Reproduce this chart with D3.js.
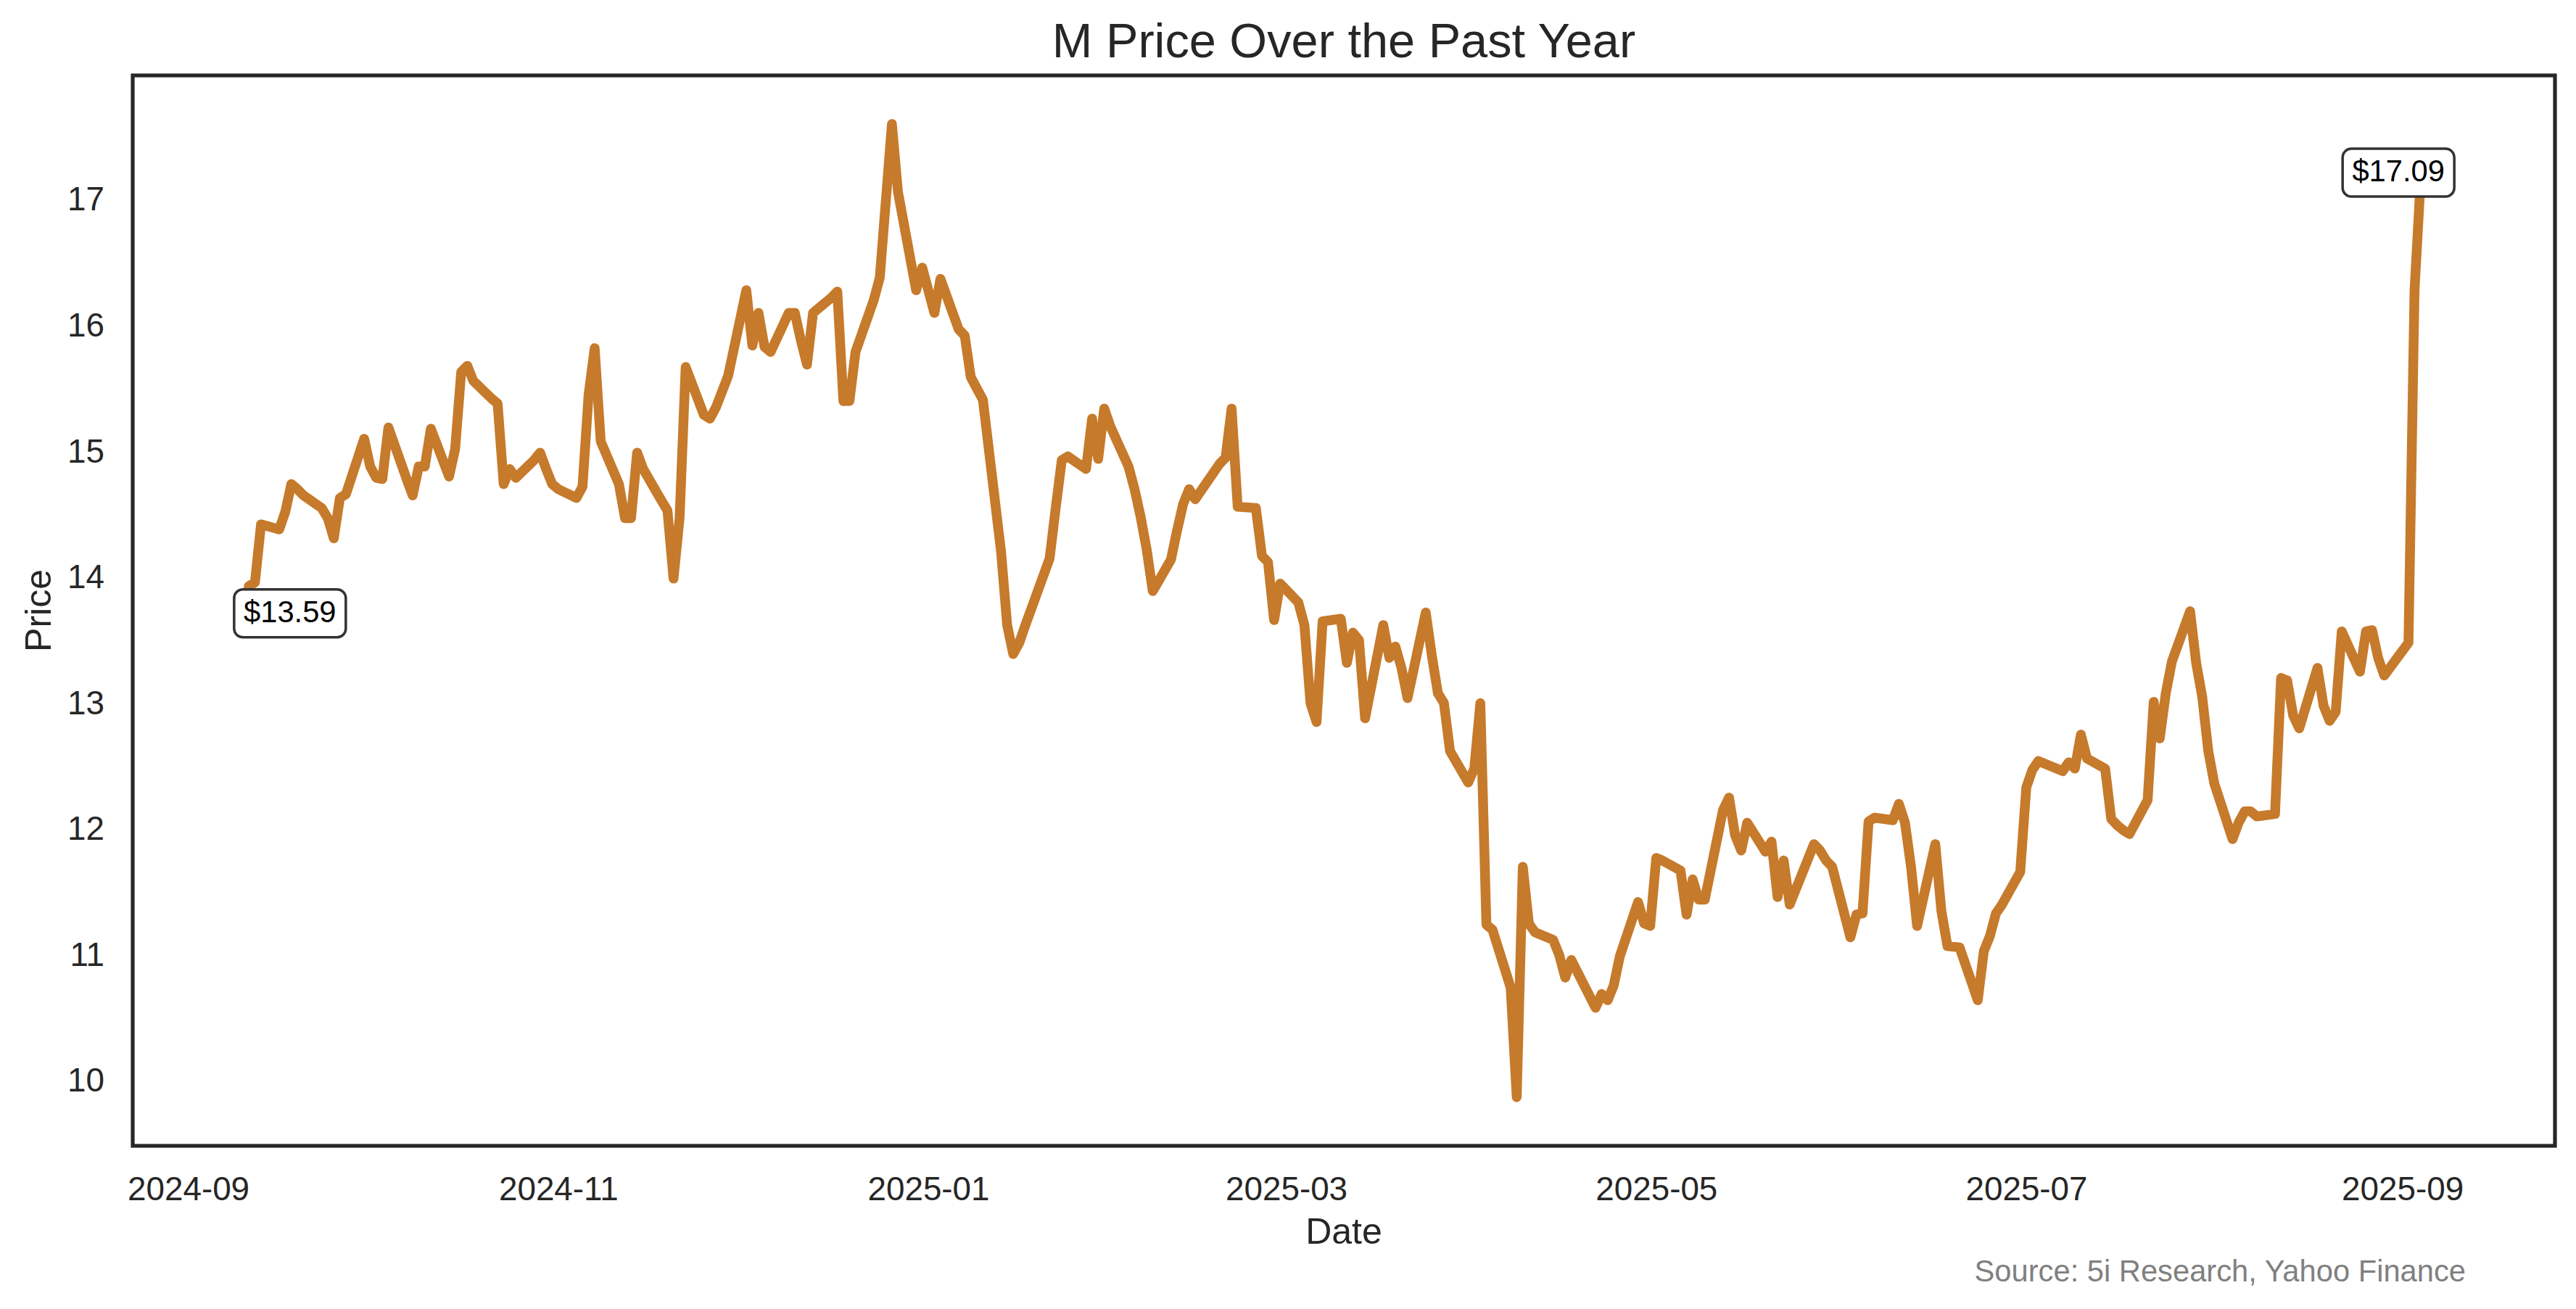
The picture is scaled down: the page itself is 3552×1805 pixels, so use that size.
<!DOCTYPE html>
<html lang="en">
<head>
<meta charset="utf-8">
<title>M Price Over the Past Year</title>
<script src="https://d3js.org/d3.v7.min.js"></script>
<style>
  html, body { margin: 0; padding: 0; background: #ffffff; }
  svg { display: block; }
  text { font-family: "Liberation Sans", Arial, sans-serif; }
</style>
</head>
<body>
<div id="chart"></div>
<script>
// daily closes
var dates = [
  "2024-09-10","2024-09-11","2024-09-12","2024-09-13","2024-09-16","2024-09-17","2024-09-18","2024-09-19","2024-09-20",
  "2024-09-23","2024-09-24","2024-09-25","2024-09-26","2024-09-27","2024-09-30","2024-10-01","2024-10-02","2024-10-03",
  "2024-10-04","2024-10-07","2024-10-08","2024-10-09","2024-10-10","2024-10-11","2024-10-14","2024-10-15","2024-10-16",
  "2024-10-17","2024-10-18","2024-10-21","2024-10-22","2024-10-23","2024-10-24","2024-10-25","2024-10-28","2024-10-29",
  "2024-10-30","2024-10-31","2024-11-01","2024-11-04","2024-11-05","2024-11-06","2024-11-07","2024-11-08","2024-11-11",
  "2024-11-12","2024-11-13","2024-11-14","2024-11-15","2024-11-18","2024-11-19","2024-11-20","2024-11-21","2024-11-22",
  "2024-11-25","2024-11-26","2024-11-27","2024-11-29","2024-12-02","2024-12-03","2024-12-04","2024-12-05","2024-12-06",
  "2024-12-09","2024-12-10","2024-12-11","2024-12-12","2024-12-13","2024-12-16","2024-12-17","2024-12-18","2024-12-19",
  "2024-12-20","2024-12-23","2024-12-24","2024-12-26","2024-12-27","2024-12-30","2024-12-31",
  "2025-01-02","2025-01-03","2025-01-06","2025-01-07","2025-01-08","2025-01-10","2025-01-13","2025-01-14","2025-01-15",
  "2025-01-16","2025-01-17","2025-01-21","2025-01-22","2025-01-23","2025-01-24","2025-01-27","2025-01-28","2025-01-29",
  "2025-01-30","2025-01-31","2025-02-03","2025-02-04","2025-02-05","2025-02-06","2025-02-07","2025-02-10","2025-02-11",
  "2025-02-12","2025-02-13","2025-02-14","2025-02-18","2025-02-19","2025-02-20","2025-02-21","2025-02-24","2025-02-25",
  "2025-02-26","2025-02-27","2025-02-28","2025-03-03","2025-03-04","2025-03-05","2025-03-06","2025-03-07","2025-03-10",
  "2025-03-11","2025-03-12","2025-03-13","2025-03-14","2025-03-17","2025-03-18","2025-03-19","2025-03-20","2025-03-21",
  "2025-03-24","2025-03-25","2025-03-26","2025-03-27","2025-03-28","2025-03-31","2025-04-01","2025-04-02","2025-04-03",
  "2025-04-04","2025-04-07","2025-04-08","2025-04-09","2025-04-10","2025-04-11","2025-04-14","2025-04-15","2025-04-16",
  "2025-04-17","2025-04-21","2025-04-22","2025-04-23","2025-04-24","2025-04-25","2025-04-28","2025-04-29","2025-04-30",
  "2025-05-01","2025-05-02","2025-05-05","2025-05-06","2025-05-07","2025-05-08","2025-05-09","2025-05-12","2025-05-13",
  "2025-05-14","2025-05-15","2025-05-16","2025-05-19","2025-05-20","2025-05-21","2025-05-22","2025-05-23","2025-05-27",
  "2025-05-28","2025-05-29","2025-05-30","2025-06-02","2025-06-03","2025-06-04","2025-06-05","2025-06-06","2025-06-09",
  "2025-06-10","2025-06-11","2025-06-12","2025-06-13","2025-06-16","2025-06-17","2025-06-18","2025-06-20","2025-06-23",
  "2025-06-24","2025-06-25","2025-06-26","2025-06-27","2025-06-30","2025-07-01","2025-07-02","2025-07-03","2025-07-07",
  "2025-07-08","2025-07-09","2025-07-10","2025-07-11","2025-07-14","2025-07-15","2025-07-16","2025-07-17","2025-07-18",
  "2025-07-21","2025-07-22","2025-07-23","2025-07-24","2025-07-25","2025-07-28","2025-07-29","2025-07-30","2025-07-31",
  "2025-08-01","2025-08-04","2025-08-05","2025-08-06","2025-08-07","2025-08-08","2025-08-11","2025-08-12","2025-08-13",
  "2025-08-14","2025-08-15","2025-08-18","2025-08-19","2025-08-20","2025-08-21","2025-08-22","2025-08-25","2025-08-26",
  "2025-08-27","2025-08-28","2025-08-29","2025-09-02","2025-09-03","2025-09-04","2025-09-05","2025-09-08"
];

var prices = [
  13.59,13.93,13.96,14.42,14.38,14.52,14.74,14.70,14.65,
  14.55,14.47,14.31,14.63,14.66,15.10,14.88,14.79,14.78,
  15.19,14.78,14.65,14.88,14.88,15.18,14.80,15.02,15.63,
  15.68,15.56,15.42,15.38,14.74,14.86,14.79,14.93,14.99,
  14.86,14.74,14.70,14.63,14.72,15.45,15.82,15.08,14.74,
  14.47,14.47,14.99,14.86,14.61,14.53,13.99,14.47,15.67,
  15.29,15.26,15.35,15.60,16.28,15.84,16.10,15.83,15.79,
  16.10,16.10,15.88,15.69,16.10,16.22,16.27,15.40,15.40,
  15.79,16.20,16.38,17.60,17.06,16.28,16.46,
  16.10,16.37,15.97,15.92,15.59,15.41,14.20,13.62,13.39,
  13.48,13.62,14.15,14.55,14.93,14.96,14.86,15.26,14.94,
  15.34,15.20,14.88,14.70,14.48,14.22,13.89,14.14,14.37,
  14.58,14.70,14.62,14.90,14.95,15.34,14.56,14.55,14.17,
  14.12,13.66,13.95,13.80,13.62,13.00,12.85,13.65,13.67,
  13.32,13.56,13.50,12.88,13.62,13.36,13.45,13.28,13.04,
  13.72,13.38,13.08,13.00,12.62,12.37,12.48,13.00,11.24,
  11.20,10.74,9.87,11.70,11.25,11.18,11.12,11.00,10.82,
  10.96,10.58,10.69,10.64,10.76,10.99,11.42,11.25,11.23,
  11.77,11.75,11.67,11.32,11.60,11.44,11.44,12.15,12.25,
  11.95,11.83,12.05,11.82,11.90,11.46,11.75,11.40,11.88,
  11.83,11.75,11.70,11.14,11.32,11.33,12.06,12.09,12.07,
  12.20,12.05,11.70,11.23,11.88,11.35,11.07,11.06,10.64,
  11.03,11.15,11.33,11.40,11.66,12.33,12.47,12.54,12.46,
  12.53,12.48,12.75,12.56,12.48,12.08,12.03,11.99,11.96,
  12.23,13.01,12.72,13.08,13.33,13.73,13.32,13.05,12.62,
  12.36,11.92,12.05,12.14,12.14,12.10,12.12,13.20,13.18,
  12.90,12.80,13.28,12.98,12.86,12.93,13.57,13.25,13.57,
  13.58,13.36,13.22,13.48,16.28,17.15,17.25,17.09
];

var xTickLabels = ["2024-09","2024-11","2025-01","2025-03","2025-05","2025-07","2025-09"];
var yTickValues = [10, 11, 12, 13, 14, 15, 16, 17];

var titleText = "M Price Over the Past Year";
var xLabel = "Date";
var yLabel = "Price";
var sourceText = "Source: 5i Research, Yahoo Finance";

// page size and plot box
var width = 3552, height = 1805;
var plotLeft = 183, plotRight = 3523, plotTop = 104, plotBottom = 1580;
var lineColor = "#c67a2b";
var ink = "#262626";

var parseDay = d3.utcParse("%Y-%m-%d");
var parseMonth = d3.utcParse("%Y-%m");

var data = dates.map(function(d, i) {
  return { date: parseDay(d), price: prices[i] };
});

// matplotlib style 5% margins on both axes
var xExt = d3.extent(data, function(d) { return d.date; });
var xPad = (xExt[1] - xExt[0]) * 0.05;
var x = d3.scaleUtc()
  .domain([new Date(+xExt[0] - xPad), new Date(+xExt[1] + xPad)])
  .range([plotLeft, plotRight]);

var yExt = d3.extent(prices);
var yPad = (yExt[1] - yExt[0]) * 0.05;
var y = d3.scaleLinear()
  .domain([yExt[0] - yPad, yExt[1] + yPad])
  .range([plotBottom, plotTop]);

var svg = d3.select("#chart").append("svg")
  .attr("width", width)
  .attr("height", height)
  .attr("viewBox", "0 0 " + width + " " + height);

svg.append("rect")
  .attr("width", width).attr("height", height)
  .attr("fill", "#ffffff");

// price line
var line = d3.line()
  .x(function(d) { return x(d.date); })
  .y(function(d) { return y(d.price); });

svg.append("path")
  .datum(data)
  .attr("d", line)
  .attr("fill", "none")
  .attr("stroke", lineColor)
  .attr("stroke-width", 13.5)
  .attr("stroke-linejoin", "round")
  .attr("stroke-linecap", "butt");

// axes, no tick marks (seaborn white)
var xAxis = d3.axisBottom(x)
  .tickValues(xTickLabels.map(function(m) { return parseMonth(m); }))
  .tickFormat(d3.utcFormat("%Y-%m"))
  .tickSize(0)
  .tickPadding(42);

var gx = svg.append("g")
  .attr("transform", "translate(0," + plotBottom + ")")
  .call(xAxis);
gx.select(".domain").remove();
gx.selectAll("text")
  .attr("font-size", 45.8)
  .attr("font-family", "Liberation Sans, Arial, sans-serif")
  .attr("fill", ink);

var yAxis = d3.axisLeft(y)
  .tickValues(yTickValues)
  .tickFormat(d3.format("d"))
  .tickSize(0)
  .tickPadding(39);

var gy = svg.append("g")
  .attr("transform", "translate(" + plotLeft + ",0)")
  .call(yAxis);
gy.select(".domain").remove();
gy.selectAll("text")
  .attr("font-size", 45.8)
  .attr("font-family", "Liberation Sans, Arial, sans-serif")
  .attr("fill", ink);

// frame
svg.append("rect")
  .attr("x", plotLeft).attr("y", plotTop)
  .attr("width", plotRight - plotLeft).attr("height", plotBottom - plotTop)
  .attr("fill", "none")
  .attr("stroke", ink)
  .attr("stroke-width", 5.2);

// first / last price labels
function priceLabel(d, label, offsetX) {
  var cx = x(d.date) + offsetX;
  var base = y(d.price) - 9.5;
  var g = svg.append("g");
  g.append("rect")
    .attr("x", cx - 77).attr("y", base - 45)
    .attr("width", 154).attr("height", 66)
    .attr("rx", 12).attr("ry", 12)
    .attr("fill", "#ffffff")
    .attr("stroke", "#333333")
    .attr("stroke-width", 3.5);
  g.append("text")
    .attr("x", cx).attr("y", base)
    .attr("text-anchor", "middle")
    .attr("font-size", 41.7)
    .attr("fill", "#000000")
    .text(label);
}
priceLabel(data[0], "$" + prices[0].toFixed(2), 65);
priceLabel(data[data.length - 1], "$" + prices[prices.length - 1].toFixed(2), -64);

// title, axis labels, source
svg.append("text")
  .attr("x", (plotLeft + plotRight) / 2).attr("y", 79)
  .attr("text-anchor", "middle")
  .attr("font-size", 66.7)
  .attr("fill", ink)
  .text(titleText);

svg.append("text")
  .attr("x", (plotLeft + plotRight) / 2).attr("y", 1715)
  .attr("text-anchor", "middle")
  .attr("font-size", 50)
  .attr("fill", ink)
  .text(xLabel);

svg.append("text")
  .attr("transform", "translate(70," + ((plotTop + plotBottom) / 2) + ") rotate(-90)")
  .attr("text-anchor", "middle")
  .attr("font-size", 50)
  .attr("fill", ink)
  .text(yLabel);

svg.append("text")
  .attr("x", 3400).attr("y", 1767)
  .attr("text-anchor", "end")
  .attr("font-size", 41.7)
  .attr("fill", "#808080")
  .text(sourceText);
</script>
</body>
</html>
